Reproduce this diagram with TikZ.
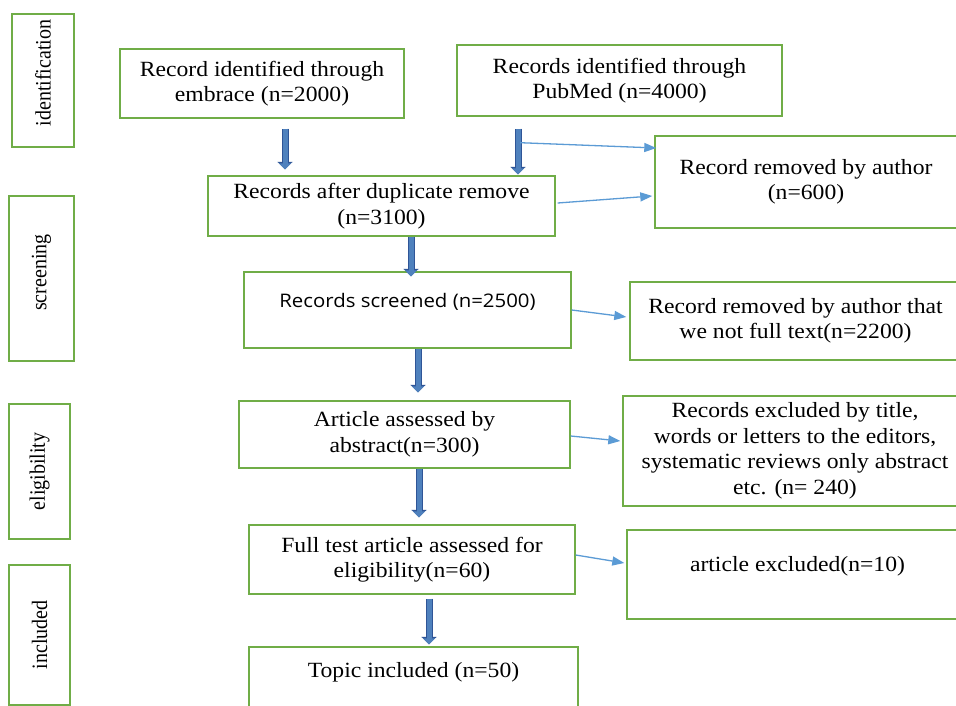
\documentclass[tikz,border=0pt]{standalone}
\usepackage{fontspec}
\setmainfont{Liberation Serif}[FakeStretch=1.09]
\newfontfamily\osans{Open Sans}[FakeStretch=1.09]
\newfontfamily\sidefont{Liberation Serif}
\usetikzlibrary{arrows.meta}
\definecolor{boxgreen}{HTML}{70AD47}
\definecolor{thinblue}{HTML}{5B9BD5}
\definecolor{blkfill}{HTML}{4F81BD}
\definecolor{blkline}{HTML}{2F5597}
\newcommand\upby[2]{\raisebox{#1}[\height][\depth]{#2}}
\newcommand\tallside[1]{\scalebox{1}[1.1]{#1}}
\begin{document}
\begin{tikzpicture}[x=1pt,y=-1pt,
  box/.style={draw=boxgreen, line width=1.4pt, inner sep=0pt, align=center, font=\fontsize{21.7}{25.5}\selectfont},
  side/.style={draw=boxgreen, line width=1.4pt, inner sep=0pt, rotate=90, font=\sidefont\fontsize{20}{24}\selectfont},
  thin/.style={draw=thinblue, line width=1.3pt, -{Triangle[length=12pt,width=9pt]}},
  blk/.style={draw=blkfill, line width=5pt, -{Triangle[length=6pt,width=12pt]},
    preaction={draw=blkline, line width=7pt, -{Triangle[length=7.5pt,width=15pt]}}}
]
\fill[white] (0,0) rectangle (956,706);
\useasboundingbox (0,0) rectangle (956,706);

% side labels
\node[side, minimum width=133pt, minimum height=62pt] (s1) at (43,80.5) {\hspace*{15pt}\tallside{identification}};
\node[side, minimum width=165pt, minimum height=65pt] (s2) at (41.5,278.5) {\hspace*{12pt}\tallside{screening}};
\node[side, minimum width=135pt, minimum height=61pt] (s3) at (39.5,471.5) {\tallside{eligibility}};
\node[side, minimum width=140pt, minimum height=61pt] (s4) at (39.5,635) {\tallside{included}};

% main boxes
\node[box, minimum width=284pt, minimum height=69pt] (A) at (262,83.5) {Record identified through\\embrace (n=2000)};
\node[box, minimum width=325pt, minimum height=71pt] (B) at (619.5,80.5) {Records identified through\\PubMed (n=4000)};
\node[box, minimum width=347pt, minimum height=60pt] (C) at (381.5,206) {Records after duplicate remove\\(n=3100)};
\node[box, minimum width=302pt, minimum height=92pt] (D) at (806,182) {Record removed by author\\(n=600)};
\node[box, minimum width=327pt, minimum height=76pt] (E) at (407.5,310) {\upby{8pt}{\osans\fontsize{18.7}{22}\selectfont Records screened (n=2500)}};
\node[box, minimum width=331pt, minimum height=78pt] (F) at (795.5,321) {Record removed by author that\\we not full text(n=2200)};
\node[box, minimum width=331pt, minimum height=67pt] (G) at (404.5,434.5) {Article assessed by\\abstract(n=300)};
\node[box, minimum width=344pt, minimum height=110pt] (H) at (795,451) {Records excluded by title,\\words or letters to the editors,\\systematic reviews only abstract\\etc. (n= 240)};
\node[box, minimum width=326pt, minimum height=69pt] (I) at (412,559.5) {Full test article assessed for\\eligibility(n=60)};
\node[box, minimum width=341pt, minimum height=89pt] (J) at (797.5,574.5) {\upby{8pt}{article excluded(n=10)}};
\node[box, minimum width=329pt, minimum height=80pt] (K) at (413.5,687) {\upby{15pt}{Topic included (n=50)}};

% block arrows
\draw[blk] ([xshift=23pt,yshift=-10pt]A.south) -- ([xshift=-96.5pt,yshift=6pt]C.north);
\draw[blk] ([xshift=-101.5pt,yshift=-12pt]B.south) coordinate (j1) -- ([xshift=136.5pt,yshift=1pt]C.north);
\draw[blk] ([xshift=29.5pt]C.south) -- ([xshift=3.5pt,yshift=-5pt]E.north);
\draw[blk] ([xshift=10.5pt]E.south) -- ([xshift=13.5pt,yshift=8pt]G.north);
\draw[blk] ([xshift=14.5pt]G.south) -- ([xshift=7pt,yshift=7pt]I.north);
\draw[blk] ([xshift=17pt,yshift=-4pt]I.south) -- ([xshift=15.5pt,yshift=2pt]K.north);

% thin arrows
\coordinate (j1b) at ([yshift=-14pt,xshift=2pt]j1);
\draw[thin] (j1b) -- ([xshift=2pt,yshift=34pt]D.west);
\draw[thin] ([xshift=2pt,yshift=3pt]C.east) -- ([xshift=-2pt,yshift=-14pt]D.west);
\draw[thin] (E.east) -- ([xshift=-3pt,yshift=4pt]F.west);
\draw[thin] ([yshift=-1.5pt]G.east) -- ([xshift=-2pt,yshift=10pt]H.west);
\draw[thin] ([yshift=4.5pt]I.east) -- ([xshift=-2pt,yshift=11.5pt]J.west);
\end{tikzpicture}
\end{document}
